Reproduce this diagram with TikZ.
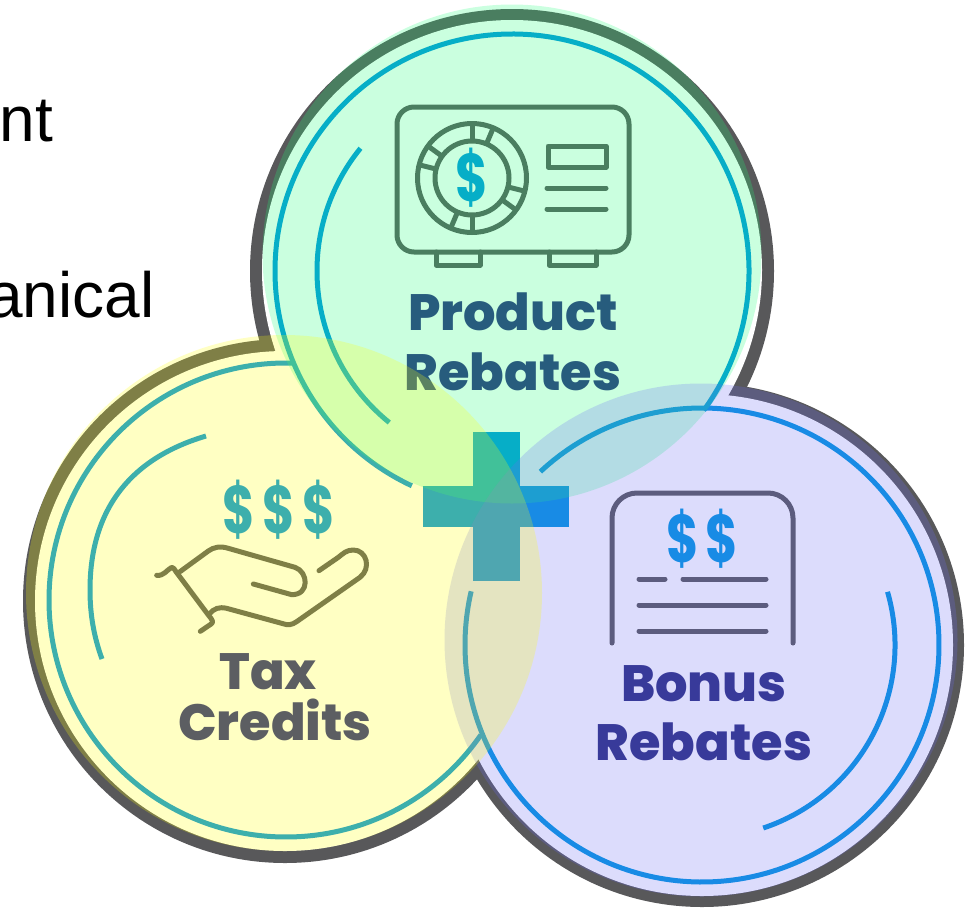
\documentclass[tikz,border=0pt]{standalone}
\usepackage{fontspec}
\usetikzlibrary{positioning}
\newfontfamily\labelfont{Poppins}[BoldFont={Poppins ExtraBold}]
\newfontfamily\dollarfont{Poppins}
\setmainfont{Liberation Sans}
\definecolor{ringgray}{RGB}{88,88,90}
\definecolor{ringblue}{RGB}{0,150,224}
\definecolor{textnavy}{RGB}{42,44,127}
\definecolor{greenwash}{RGB}{30,255,120}
\definecolor{bluewash}{RGB}{106,106,246}
\definecolor{yellowwash}{RGB}{255,255,8}
\tikzset{
  ringline/.style={draw=ringblue, line width=5pt},
  iconline/.style={draw=ringgray, line width=5pt, line cap=round, line join=round},
  rebatetext/.style={anchor=base, inner sep=0pt, text=textnavy, font=\labelfont\bfseries\fontsize{51}{51}\selectfont},
  dollartext/.style={inner sep=0pt, xscale=0.92, yscale=1.25, text=ringblue, font=\dollarfont\bfseries\fontsize{54}{54}\selectfont},
  sidetext/.style={anchor=base east, inner sep=0pt, text=black, font=\fontsize{64}{64}\selectfont},
}
\begin{document}
\begin{tikzpicture}[x=1pt, y=1pt]
    \useasboundingbox (0,0) rectangle (972,-908);

    % Centres of the rings
    \coordinate (productc) at (512,-271);
    \coordinate (taxc) at (286,-600);
    \coordinate (bonusc) at (702,-645);

    % Text on the left
    \node (sideone) [sidetext] at (53,-141) {nt};
    \node (sidetwo) [sidetext] at (154.5,-317) {anical};

    % Outer outline of the three rings
    \fill[ringgray] (productc) circle (262pt);
    \fill[ringgray] (285,-601) circle (262pt);
    \fill[ringgray] (bonusc) circle (262pt);
    \fill[white] (512,-270) circle (250pt);
    \fill[white] (285,-601) circle (250pt);
    \fill[white] (bonusc) circle (251pt);

    % Inner rings
    \draw[ringline] (productc) ++(-36:237pt) arc[start angle=-36, end angle=245, radius=237pt];
    \draw[ringline] (productc) ++(141:195pt) arc[start angle=141, end angle=231, radius=195pt];
    \draw[ringline] (taxc) ++(88.5:237pt) arc[start angle=88.5, end angle=325.3, radius=237pt];
    \draw[ringline] (206,-436) .. controls (125,-460) and (90,-515) .. (90,-590) .. controls (90,-615) and (94,-637) .. (102,-659);
    \draw[ringline] (bonusc) ++(133:237pt) arc[start angle=133, end angle=-193.1, radius=237pt];
    \draw[ringline] (bonusc) ++(16:193pt) arc[start angle=16, end angle=-71.5, radius=193pt];

    % Plus
    \fill[ringblue] (473,-432) rectangle (520,-581);
    \fill[ringblue] (423,-486) rectangle (569,-527);

    % Product icon
    \draw[iconline] (397,-107) [rounded corners=17pt] rectangle (629,-252);
    \draw[iconline] (436,-252) -- (436,-265) -- (480,-265) -- (480,-252);
    \draw[iconline] (549,-252) -- (549,-265) -- (596,-265) -- (596,-252);
    \coordinate (dialc) at (472,-178);
    \draw[iconline] (dialc) circle (54.5pt);
    \draw[iconline] (dialc) circle (37pt);
    \foreach \a in {90,67,144,166,270,247,324,346}
        \draw[iconline, line cap=butt] (dialc) ++(\a:37pt) -- ++(\a:17.5pt);
    \node (dialdollar) [dollartext] at (dialc) {\$};
    \draw[iconline] (548,-146) rectangle (606,-167);
    \draw[iconline] (547,-188) -- (606,-188);
    \draw[iconline] (547,-209) -- (606,-209);

    % Hand icon
    \begin{scope}[shift={(140,-470)}, x=0.3333pt, y=-0.3333pt]
        \draw[iconline] (50,316) .. controls (72,318) and (78,302) .. (95,292) .. controls (100,292) and (103,297) .. (108,305) -- (205,435) .. controls (218,450) and (222,458) .. (212,463) -- (181,484);
        \draw[iconline] (120,305) -- (205,243) .. controls (220,232) and (240,227) .. (265,235) -- (465,292) .. controls (505,305) and (510,375) .. (455,374) -- (340,342);
        \draw[iconline] (208,432) .. controls (222,415) and (238,410) .. (260,415) -- (425,460) .. controls (445,467) and (455,465) .. (470,455) -- (660,322) .. controls (695,295) and (680,240) .. (640,240) .. controls (620,240) and (610,250) .. (595,262) -- (537,302);
    \end{scope}
    \node (taxdollara) [dollartext] at (239,-510) {\$};
    \node (taxdollarb) [dollartext] at (279,-510) {\$};
    \node (taxdollarc) [dollartext] at (319,-510) {\$};

    % Bonus icon
    \draw[iconline] (612,-643) -- (612,-518) [rounded corners=25pt] -- (612,-493) -- (793,-493) [sharp corners] -- (793,-518) -- (793,-643);
    \node (bonusdollara) [dollartext] at (683,-539) {\$};
    \node (bonusdollarb) [dollartext] at (722,-539) {\$};
    \draw[iconline] (639,-579) -- (665,-579);
    \draw[iconline] (683,-579) -- (766,-579);
    \draw[iconline] (639,-605) -- (766,-605);
    \draw[iconline] (639,-631) -- (766,-631);

    % Labels
    \node (producttext) [rebatetext] at (513,-330) {Product};
    \node (productrebate) [rebatetext] at (513,-390) {Rebates};
    \node (taxtext) [rebatetext] at (268,-689) {Tax};
    \node (creditstext) [rebatetext] at (275,-740) {Credits};
    \node (bonustext) [rebatetext] at (704,-701) {Bonus};
    \node (bonusrebate) [rebatetext] at (704,-760) {Rebates};

    % Washes over everything
    \fill[greenwash, fill opacity=0.23] (512,-254) circle (249.5pt);
    \fill[bluewash, fill opacity=0.23] (701,-640) circle (256.5pt);
    \fill[yellowwash, fill opacity=0.24] (284,-593) circle (258pt);

\end{tikzpicture}
\end{document}
